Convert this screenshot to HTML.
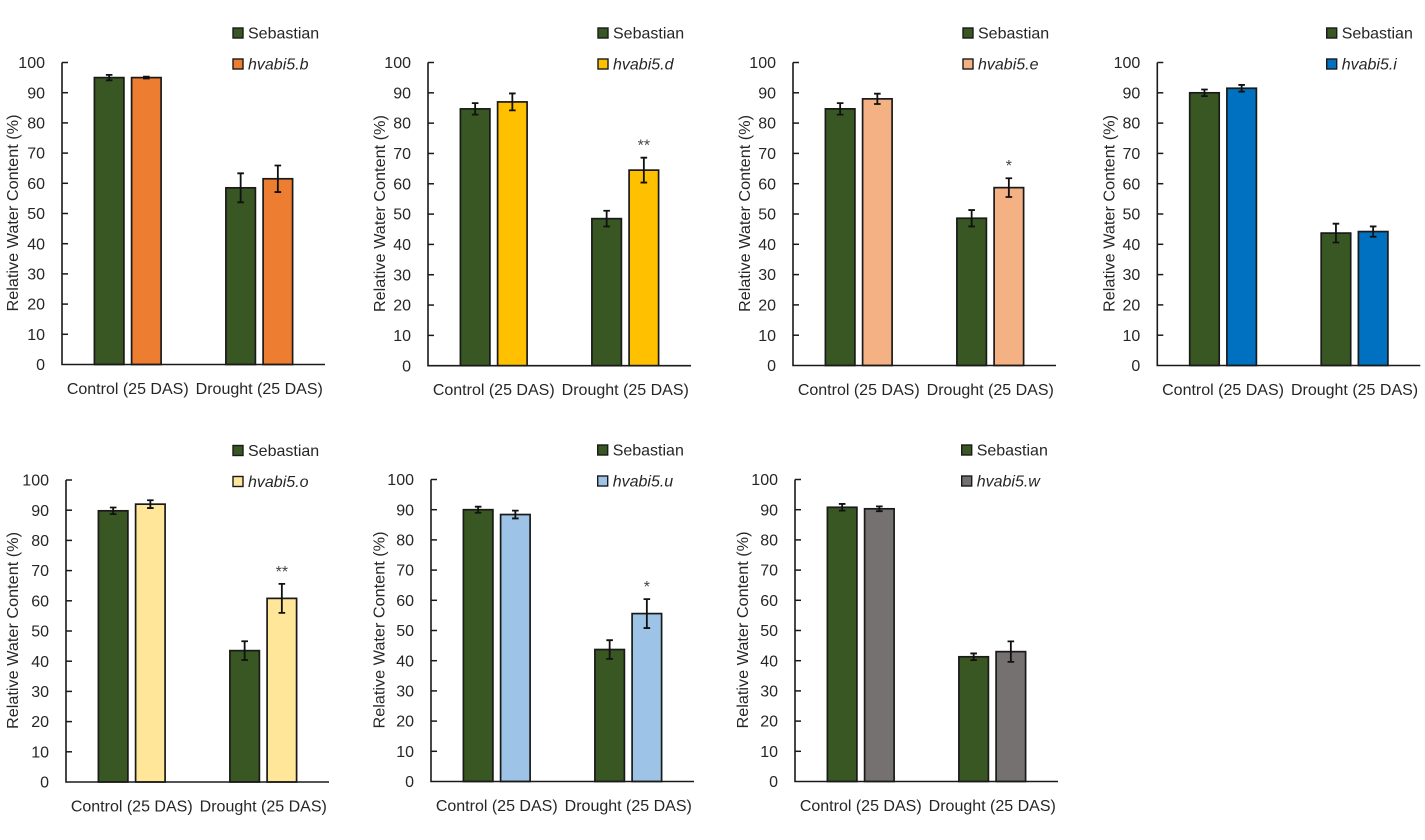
<!DOCTYPE html>
<html lang="en">
<head>
<meta charset="utf-8">
<title>Relative Water Content of hvabi5 mutants</title>
<style>
  html, body { margin: 0; padding: 0; background: #fff; }
  #figure { display: block; position: absolute; left: 0; top: 0; }
  text { font-family: "Liberation Sans", Arial, sans-serif; fill: #262626; font-size: 16px; }
</style>
</head>
<body>
<svg id="figure" width="1425" height="840" viewBox="0 0 1425 840" xmlns="http://www.w3.org/2000/svg">
  <rect x="0" y="0" width="1425" height="840" fill="#ffffff"/>
  <g class="panel" transform="translate(62 62.5)" data-plot-height="302" data-legend-x="171" data-title-x="-44" data-fill="#ED7D31"></g>
  <g class="panel" transform="translate(428 62.5)" data-plot-height="303.2" data-legend-x="170" data-title-x="-43" data-fill="#FFC000"></g>
  <g class="panel" transform="translate(793 62.5)" data-plot-height="303" data-legend-x="170" data-title-x="-43" data-fill="#F4B183"></g>
  <g class="panel" transform="translate(1157.3 62.5)" data-plot-height="303" data-legend-x="169.4" data-title-x="-43" data-fill="#0070C0"></g>
  <g class="panel" transform="translate(66 480)" data-plot-height="302" data-legend-x="167" data-title-x="-48" data-fill="#FFE699"></g>
  <g class="panel" transform="translate(431 479.5)" data-plot-height="302" data-legend-x="166.7" data-title-x="-46.5" data-fill="#9DC3E6"></g>
  <g class="panel" transform="translate(795 479.5)" data-plot-height="302" data-legend-x="166.7" data-title-x="-47" data-fill="#767171"></g>
</svg>
<script>
const categories = ['Control (25 DAS)', 'Drought (25 DAS)'];
const yTicks = [0, 10, 20, 30, 40, 50, 60, 70, 80, 90, 100];
const referenceLine = 'Sebastian';
const genotypes = ['hvabi5.b', 'hvabi5.d', 'hvabi5.e', 'hvabi5.i', 'hvabi5.o', 'hvabi5.u', 'hvabi5.w'];
const referenceMeans = [[95, 58.5], [84.7, 48.5], [84.7, 48.6], [90, 43.7], [89.8, 43.5], [90, 43.7], [90.8, 41.3]];
const referenceErrors = [[0.9, 4.8], [1.9, 2.6], [1.9, 2.7], [1.1, 3.1], [1.1, 3.1], [1.0, 3.1], [1.1, 1.1]];
const mutantMeans = [[95, 61.5], [87, 64.5], [88, 58.7], [91.5, 44.2], [92, 60.8], [88.4, 55.6], [90.3, 43]];
const mutantErrors = [[0.3, 4.4], [2.8, 4.1], [1.7, 3.1], [1.1, 1.7], [1.3, 4.8], [1.3, 4.8], [0.8, 3.4]];
const significance = [['', ''], ['', '**'], ['', '*'], ['', ''], ['', '**'], ['', '*'], ['', '']];

const SVG_NS = 'http://www.w3.org/2000/svg';
const PLOT_WIDTH = 263;
const BAR_WIDTH = 29.5;
const BAR_OFFSET = 18.6;

function make(parent, tag, attrs) {
  const el = document.createElementNS(SVG_NS, tag);
  for (const key in attrs) el.setAttribute(key, attrs[key]);
  parent.appendChild(el);
  return el;
}

function xBand(index) {
  return (PLOT_WIDTH / categories.length) * (index + 0.5);
}

function yScale(value, height) {
  return height - (value / 100) * height;
}

function drawBar(group, cx, mean, height, fill, seriesName) {
  const top = yScale(mean, height);
  const bar = make(group, 'rect', {
    x: cx - BAR_WIDTH / 2, y: top, width: BAR_WIDTH, height: height - top,
    fill: fill, stroke: '#1a1a1a', 'stroke-width': 1.7
  });
  
  
}

function drawError(group, cx, mean, err, height, seriesName) {
  const hi = yScale(mean + err, height);
  const lo = yScale(mean - err, height);
  const whisker = make(group, 'path', {
    d: 'M' + (cx - 3.3) + ' ' + hi + 'H' + (cx + 3.3) + 'M' + cx + ' ' + hi + 'V' + lo + 'M' + (cx - 3.3) + ' ' + lo + 'H' + (cx + 3.3),
    fill: 'none', stroke: '#111', 'stroke-width': 1.8
  });
  
  
}

document.querySelectorAll('.panel').forEach(function (panel, p) {
  const height = parseFloat(panel.getAttribute('data-plot-height'));
  const legendX = parseFloat(panel.getAttribute('data-legend-x'));
  const titleX = parseFloat(panel.getAttribute('data-title-x'));
  const fill = panel.getAttribute('data-fill');

  categories.forEach(function (category, c) {
    const cx = xBand(c);
    drawBar(panel, cx - BAR_OFFSET, referenceMeans[p][c], height, '#385723', 'sebastian-' + c);
    drawBar(panel, cx + BAR_OFFSET, mutantMeans[p][c], height, fill, 'mutant-' + c);
    drawError(panel, cx - BAR_OFFSET, referenceMeans[p][c], referenceErrors[p][c], height, 'sebastian-' + c);
    drawError(panel, cx + BAR_OFFSET, mutantMeans[p][c], mutantErrors[p][c], height, 'mutant-' + c);

    if (significance[p][c]) {
      const stars = make(panel, 'text', {
        x: cx + BAR_OFFSET, y: yScale(mutantMeans[p][c] + mutantErrors[p][c], height) - 7,
        'text-anchor': 'middle', style: 'font-size:16px;fill:#444'
      });
      stars.textContent = significance[p][c];
      
      
    }

    const label = make(panel, 'text', { x: cx, y: height + 29.5, 'text-anchor': 'middle' });
    label.textContent = category;
    
    
  });

  const axes = make(panel, 'path', {
    d: 'M0 0V' + height + 'H' + PLOT_WIDTH,
    fill: 'none', stroke: '#1a1a1a', 'stroke-width': 1.6
  });
  
  

  yTicks.forEach(function (tick) {
    const y = yScale(tick, height);
    if (tick > 0) {
      const mark = make(panel, 'line', { x1: 0, x2: 6, y1: y, y2: y, stroke: '#1a1a1a', 'stroke-width': 1.5 });
      
      
    }
    const tickLabel = make(panel, 'text', { x: -17, y: y + 5.6, 'text-anchor': 'end' });
    tickLabel.textContent = tick;
    
    
  });

  const title = make(panel, 'text', {
    transform: 'translate(' + titleX + ' ' + (height / 2 - 0.5) + ') rotate(-90)',
    x: 0, y: 0, 'text-anchor': 'middle', textLength: 197, lengthAdjust: 'spacingAndGlyphs'
  });
  title.textContent = 'Relative Water Content (%)';
  
  

  const swatchA = make(panel, 'rect', { x: legendX, y: -34.5, width: 10, height: 10, fill: '#385723', stroke: '#1a1a1a', 'stroke-width': 1.4 });
  
  
  const textA = make(panel, 'text', { x: legendX + 15, y: -24 });
  textA.textContent = referenceLine;
  
  

  const swatchB = make(panel, 'rect', { x: legendX, y: -3.5, width: 10, height: 10, fill: fill, stroke: '#1a1a1a', 'stroke-width': 1.4 });
  
  
  const textB = make(panel, 'text', { x: legendX + 15, y: 7, 'font-style': 'italic' });
  textB.textContent = genotypes[p];
  
  
});
</script>
</body>
</html>
